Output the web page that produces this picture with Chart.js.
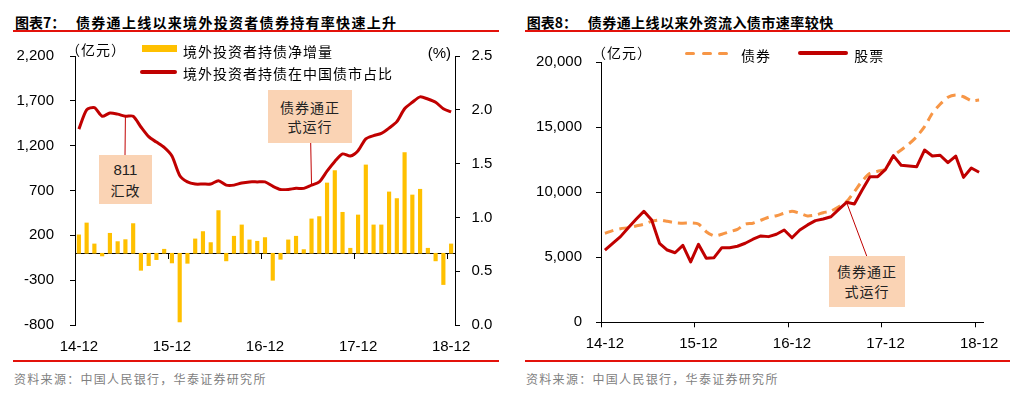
<!DOCTYPE html>
<html><head><meta charset="utf-8">
<script src="https://cdn.jsdelivr.net/npm/chart.js@4.4.1/dist/chart.umd.min.js"></script>
<style>
html,body{margin:0;padding:0;background:#fff;}
#root{position:relative;width:1025px;height:397px;overflow:hidden;font-family:"Noto Sans CJK SC","Liberation Sans",sans-serif;}
.abs{position:absolute;white-space:nowrap;}
.title{font-weight:700;font-size:14px;line-height:20px;color:#000;}
.rule{position:absolute;background:#E3120B;}
.src{font-size:12px;line-height:16px;color:#7f7f7f;letter-spacing:1.3px;}
.leg{font-size:14px;line-height:20px;color:#000;letter-spacing:1px;}
.box{position:absolute;background:#FAD3B4;text-align:center;font-size:14px;color:#222;letter-spacing:1px;}
.num{font-family:"Liberation Sans",Arial,sans-serif;font-size:15px;letter-spacing:0;}
canvas{position:absolute;}
</style></head>
<body>
<div id="root">
  <!-- left panel -->
  <div class="abs title" style="left:15px;top:11.7px;">图表7：</div>
  <div class="abs title" style="left:76px;top:11.7px;letter-spacing:1.3px;">债券通上线以来境外投资者债券持有率快速上升</div>
  <div class="rule" style="left:13px;top:30px;width:486px;height:1.5px;"></div>
  <div class="rule" style="left:13px;top:360px;width:486px;height:2px;"></div>
  <div class="abs src" style="left:14px;top:371px;">资料来源：中国人民银行，华泰证券研究所</div>

  <!-- right panel -->
  <div class="abs title" style="left:526.7px;top:11.7px;">图表8：</div>
  <div class="abs title" style="left:587.7px;top:11.7px;letter-spacing:0.47px;">债券通上线以来外资流入债市速率较快</div>
  <div class="rule" style="left:525px;top:30px;width:485px;height:1.5px;"></div>
  <div class="rule" style="left:525px;top:360px;width:485px;height:2px;"></div>
  <div class="abs src" style="left:526px;top:371px;">资料来源：中国人民银行，华泰证券研究所</div>

  <canvas id="c1" width="512" height="320" style="left:0;top:40px;"></canvas>
  <canvas id="c2" width="513" height="320" style="left:512px;top:40px;"></canvas>

  <!-- left legend & unit labels -->
  <div class="abs leg" style="left:66px;top:39.3px;">（亿元）</div>
  <div class="abs num" style="left:427.7px;top:43.7px;line-height:18px;">(%)</div>
  <div class="abs" style="left:142px;top:45px;width:35px;height:7px;background:#FFC000;"></div>
  <div class="abs leg" style="left:183px;top:40.7px;">境外投资者持债净增量</div>
  <div class="abs" style="left:140px;top:69.7px;width:37px;height:4px;border-radius:2px;background:#C00000;"></div>
  <div class="abs leg" style="left:183px;top:63.3px;">境外投资者持债在中国债市占比</div>

  <!-- right legend & unit label -->
  <div class="abs leg" style="left:592px;top:41.7px;">（亿元）</div>
  <div class="abs" style="left:685px;top:51.5px;width:10px;height:3.6px;border-radius:1.8px;background:#F79646;"></div>
  <div class="abs" style="left:701.7px;top:51.5px;width:10px;height:3.6px;border-radius:1.8px;background:#F79646;"></div>
  <div class="abs" style="left:718.3px;top:51.5px;width:10px;height:3.6px;border-radius:1.8px;background:#F79646;"></div>
  <div class="abs leg" style="left:741px;top:45px;">债券</div>
  <div class="abs" style="left:798.3px;top:51.3px;width:50px;height:4px;border-radius:2px;background:#C00000;"></div>
  <div class="abs leg" style="left:854.3px;top:45px;">股票</div>

  <!-- annotation boxes -->
  <div class="box" style="left:99px;top:155px;width:53px;height:49px;">
    <div class="num" style="line-height:20px;padding-top:5px;">811</div>
    <div style="line-height:20px;">汇改</div>
  </div>
  <div class="box" style="left:268px;top:90px;width:84px;height:53px;">
    <div style="line-height:19.4px;padding-top:7.6px;">债券通正</div>
    <div style="line-height:19.4px;">式运行</div>
  </div>
  <div class="box" style="left:829px;top:256px;width:76px;height:51px;">
    <div style="line-height:20.3px;padding-top:4.5px;">债券通正</div>
    <div style="line-height:20.3px;">式运行</div>
  </div>
</div>

<script>
// ---------- data ----------
const months = ['14-12','15-01','15-02','15-03','15-04','15-05','15-06','15-07','15-08','15-09','15-10','15-11',
  '15-12','16-01','16-02','16-03','16-04','16-05','16-06','16-07','16-08','16-09','16-10','16-11',
  '16-12','17-01','17-02','17-03','17-04','17-05','17-06','17-07','17-08','17-09','17-10','17-11',
  '17-12','18-01','18-02','18-03','18-04','18-05','18-06','18-07','18-08','18-09','18-10','18-11','18-12'];

// 境外投资者持债净增量 (亿元)
const netIncrease = [205,338,104,-30,223,130,152,331,-190,-138,
  -71,45,-108,-766,-112,160,242,119,476,-85,
  190,316,149,134,175,-301,-67,149,190,41,
  383,409,784,922,457,56,427,985,316,316,
  684,610,1123,650,714,56,-85,-349,104];

// 境外投资者持债在中国债市占比 (%)
const foreignShare = [1.82,2.00,2.02,1.94,1.97,1.96,1.94,1.94,1.84,1.75,
  1.70,1.65,1.57,1.39,1.33,1.31,1.31,1.31,1.34,1.30,
  1.30,1.32,1.33,1.33,1.33,1.29,1.26,1.26,1.27,1.27,
  1.30,1.33,1.43,1.52,1.59,1.57,1.62,1.73,1.76,1.78,
  1.83,1.89,2.01,2.07,2.12,2.10,2.07,2.01,1.98];

// 债券 (亿元)
const bondHoldings = [6850,7050,7200,7280,7410,7540,7770,7870,7770,7660,
  7620,7640,7560,6970,6640,6770,6970,7150,7560,7620,
  7850,8080,8200,8390,8540,8390,8180,8250,8430,8560,
  8890,9280,10050,10870,11460,11620,11770,12790,13250,13720,
  14280,15050,16080,16770,17310,17490,17350,17050,17100];

// 股票 (亿元)
const stockHoldings = [5550,6080,6590,7280,7920,8540,7870,6080,5560,5350,
  5920,4640,6000,4920,4970,5740,5740,5850,6080,6390,
  6640,6590,6770,7100,6500,7100,7490,7820,7950,8120,
  8690,9230,9100,10180,11200,11200,11770,12820,12080,12020,
  11970,13250,12790,12850,12280,12790,11150,11870,11540];

const leftTicksY = {min:-800, max:2200, step:500};
const rightTicksY = {min:0, max:2.5, step:0.5};
const chart2TicksY = {min:0, max:20000, step:5000};
const labelEvery = 12;

// annotation anchors (data index of the pointed month)
const anchor811 = 6;
const anchorBondConnectL = 30;
const anchorBondConnectR = 31;

// ---------- helpers ----------
const tickFont = {family:"'Liberation Sans', Arial, sans-serif", size:15};
const black = '#000';
const tickMarkColor = ctx => (ctx.index % labelEvery === 0 ? black : 'rgba(0,0,0,0)');
const labelCb = function(v, i){ return i % labelEvery === 0 ? months[i] : ''; };
const noPad = s => { s.paddingTop = 0; s.paddingBottom = 0; s.paddingLeft = 0; s.paddingRight = 0; };

const connectorPlugin = {
  id: 'connectors',
  afterDatasetsDraw(chart, args, opts) {
    const ctx = chart.ctx;
    (opts.items || []).forEach(it => {
      const px = chart.scales[it.xAxis].getPixelForValue(it.index);
      const py = chart.scales[it.yAxis].getPixelForValue(it.value);
      ctx.save();
      ctx.strokeStyle = '#C00000';
      ctx.lineWidth = 1;
      ctx.beginPath();
      ctx.moveTo(it.fromX, it.fromY);
      ctx.lineTo(px, py);
      ctx.stroke();
      ctx.restore();
    });
  }
};

// ---------- left chart ----------
new Chart(document.getElementById('c1'), {
  type: 'bar',
  data: {
    labels: months,
    datasets: [
      {
        type: 'line', label: '境外投资者持债在中国债市占比', data: foreignShare,
        xAxisID: 'x', yAxisID: 'y1', borderColor: '#C00000', borderWidth: 3,
        pointRadius: 0, tension: 0.25, fill: false, order: 0
      },
      {
        type: 'bar', label: '境外投资者持债净增量', data: netIncrease,
        xAxisID: 'x', yAxisID: 'y', backgroundColor: '#FFC000', borderWidth: 0,
        barThickness: 3.5, order: 1
      }
    ]
  },
  options: {
    responsive: false, animation: false, devicePixelRatio: 1,
    layout: {padding: {top: 16, left: 0, right: 0, bottom: 0}},
    plugins: {
      legend: {display: false}, tooltip: {enabled: false},
      connectors: {items: [
        {xAxis:'x', yAxis:'y1', index: anchor811, value: foreignShare[anchor811], fromX: 125, fromY: 115},
        {xAxis:'x', yAxis:'y1', index: anchorBondConnectL, value: foreignShare[anchorBondConnectL], fromX: 310.7, fromY: 102.7}
      ]}
    },
    scales: {
      x: {
        type: 'category', position: 'bottom', offset: true,
        grid: {display: false, drawTicks: false},
        border: {display: false},
        ticks: {autoSkip: false, maxRotation: 0, minRotation: 0, padding: 13, color: black, font: tickFont, callback: labelCb},
        afterFit: s => { noPad(s); s.height = 35; }
      },
      x2: {
        type: 'category', position: {y: 0}, offset: true, labels: months,
        grid: {offset: true, drawOnChartArea: false, drawTicks: true, tickLength: 5, color: tickMarkColor, tickColor: tickMarkColor, lineWidth: 1},
        border: {display: true, color: black, width: 1},
        ticks: {display: false, autoSkip: false},
        afterFit: s => { noPad(s); s.height = 0; }
      },
      y: {
        type: 'linear', position: 'left', min: leftTicksY.min, max: leftTicksY.max,
        grid: {drawOnChartArea: false, drawTicks: true, tickLength: 5, color: black},
        border: {display: true, color: black, width: 1},
        ticks: {stepSize: leftTicksY.step, padding: 16, color: black, font: tickFont},
        afterFit: s => { noPad(s); s.width = 75; }
      },
      y1: {
        type: 'linear', position: 'right', min: rightTicksY.min, max: rightTicksY.max,
        grid: {drawOnChartArea: false, drawTicks: true, tickLength: 5, color: black},
        border: {display: true, color: black, width: 1},
        ticks: {stepSize: rightTicksY.step, padding: 11.5, color: black, font: tickFont,
          callback: v => Number(v).toFixed(1)},
        afterFit: s => { noPad(s); s.width = 57; }
      }
    }
  },
  plugins: [connectorPlugin]
});

// ---------- right chart ----------
new Chart(document.getElementById('c2'), {
  type: 'line',
  data: {
    labels: months,
    datasets: [
      {
        label: '股票', data: stockHoldings, borderColor: '#C00000', borderWidth: 3,
        pointRadius: 0, tension: 0, fill: false, order: 0, borderJoinStyle: 'round'
      },
      {
        label: '债券', data: bondHoldings, borderColor: '#F79646', borderWidth: 3,
        borderDash: [9, 6], pointRadius: 0, tension: 0.2, fill: false, order: 1
      }
    ]
  },
  options: {
    responsive: false, animation: false, devicePixelRatio: 1,
    layout: {padding: {top: 22.3, left: 0, right: 42, bottom: 0}},
    plugins: {
      legend: {display: false}, tooltip: {enabled: false},
      connectors: {items: [
        {xAxis:'x', yAxis:'y', index: anchorBondConnectR, value: stockHoldings[anchorBondConnectR], fromX: 354.7, fromY: 216}
      ]}
    },
    scales: {
      x: {
        type: 'category', position: 'bottom', offset: true,
        grid: {offset: true, drawOnChartArea: false, drawTicks: true, tickLength: 5, color: tickMarkColor, tickColor: tickMarkColor, lineWidth: 1},
        border: {display: true, color: black, width: 1},
        ticks: {autoSkip: false, maxRotation: 0, minRotation: 0, padding: 8, color: black, font: tickFont, callback: labelCb},
        afterFit: s => { noPad(s); s.height = 37.7; }
      },
      y: {
        type: 'linear', position: 'left', min: chart2TicksY.min, max: chart2TicksY.max,
        grid: {drawOnChartArea: false, drawTicks: true, tickLength: 5, color: black},
        border: {display: true, color: black, width: 1},
        ticks: {stepSize: chart2TicksY.step, padding: 14, color: black, font: tickFont},
        afterFit: s => { noPad(s); s.width = 89; }
      }
    }
  },
  plugins: [connectorPlugin]
});
</script>
</body></html>
